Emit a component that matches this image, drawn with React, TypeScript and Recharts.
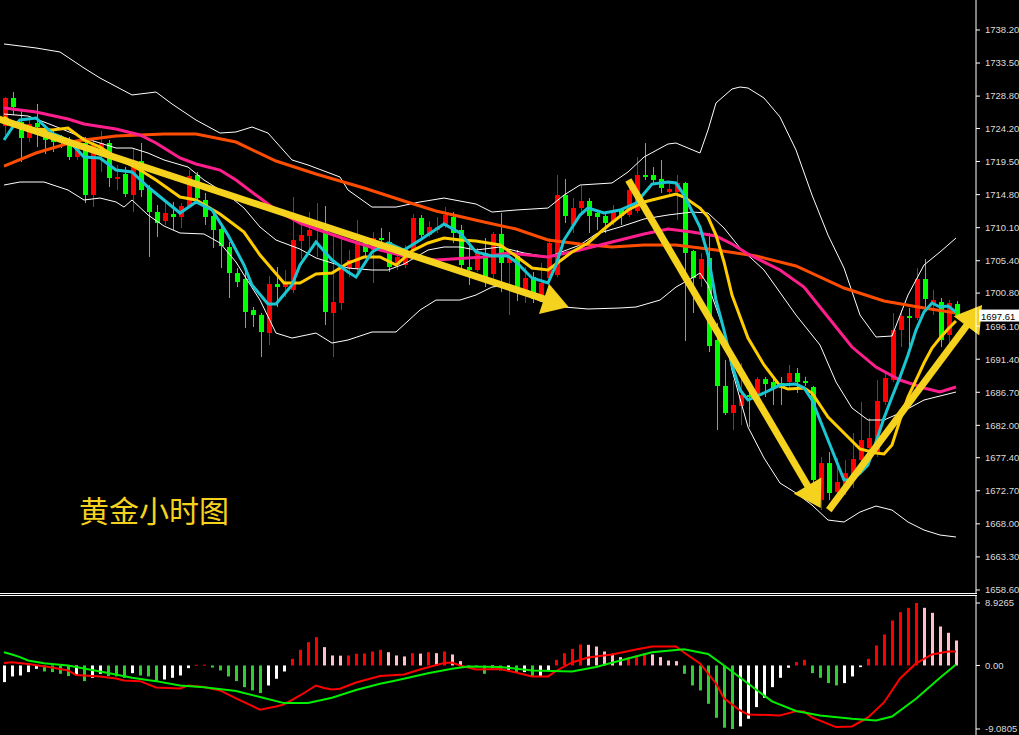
import React from "react";
import { ComposedChart, Bar, Line, XAxis, YAxis, ReferenceLine } from "recharts";

// hourly gold, MT4 style: 120 bars plus 2 empty slots of right shift
const SLOTS = 122;

// open, high, low, close
const candles: [number, number, number, number][] = [
  [1724.55, 1728.67, 1723.27, 1728.53], [1728.53, 1729.38, 1726.11, 1727.25], [1725.12, 1726.82, 1719.43, 1722.84],
  [1722.84, 1725.83, 1722.27, 1724.83], [1724.98, 1727.68, 1721.56, 1724.41], [1724.26, 1724.69, 1720.57, 1722.56],
  [1723.27, 1723.98, 1720.85, 1722.27], [1722.84, 1723.27, 1721.42, 1722.27], [1722.13, 1722.99, 1719.72, 1720.14],
  [1720.14, 1722.27, 1719.72, 1721.85], [1722.13, 1722.99, 1713.6, 1714.74], [1714.74, 1722.84, 1713.03, 1721.85],
  [1720.71, 1723.84, 1718.01, 1722.13], [1722.13, 1722.56, 1715.88, 1717.16], [1717.02, 1719.01, 1715.45, 1717.3],
  [1717.73, 1718.72, 1714.46, 1714.88], [1714.74, 1721.42, 1712.32, 1719.01], [1719.57, 1722.13, 1714.46, 1715.45],
  [1715.74, 1716.16, 1705.93, 1712.32], [1712.32, 1713.32, 1708.77, 1710.76], [1711.04, 1713.6, 1710.48, 1712.18],
  [1712.04, 1713.75, 1709.77, 1711.61], [1711.61, 1713.6, 1710.05, 1713.18], [1713.18, 1718.29, 1712.89, 1717.44],
  [1717.58, 1718.01, 1714.03, 1714.31], [1714.03, 1715.03, 1710.48, 1711.61], [1711.76, 1712.32, 1707.21, 1709.77],
  [1709.91, 1710.76, 1704.36, 1707.49], [1707.35, 1708.06, 1700.1, 1703.65], [1703.65, 1704.36, 1701.66, 1702.37],
  [1702.8, 1704.08, 1695.83, 1698.11], [1698.39, 1698.82, 1695.98, 1697.68], [1697.68, 1697.97, 1691.71, 1695.27],
  [1695.12, 1703.23, 1693.42, 1702.09], [1702.09, 1704.51, 1698.82, 1701.66], [1701.66, 1704.08, 1700.24, 1702.37],
  [1701.24, 1714.46, 1700.81, 1708.34], [1708.2, 1710.76, 1705.64, 1709.05], [1708.91, 1712.32, 1706.92, 1709.77],
  [1709.77, 1713.6, 1705.93, 1710.48], [1710.62, 1713.18, 1696.26, 1698.11], [1697.97, 1708.91, 1691.71, 1699.53],
  [1699.39, 1708.91, 1698.39, 1704.79], [1704.36, 1706.92, 1703.08, 1705.5], [1704.36, 1711.19, 1703.8, 1708.06],
  [1708.06, 1708.77, 1705.93, 1706.64], [1706.92, 1709.48, 1702.23, 1708.63], [1708.63, 1710.05, 1706.92, 1708.34],
  [1708.06, 1709.48, 1703.8, 1704.51], [1704.79, 1707.21, 1704.08, 1705.93], [1704.79, 1707.63, 1704.36, 1707.21],
  [1706.92, 1712.04, 1706.92, 1711.47], [1711.47, 1711.9, 1708.34, 1709.05], [1709.05, 1711.04, 1708.77, 1710.19],
  [1709.77, 1711.61, 1709.34, 1710.19], [1710.48, 1713.03, 1710.05, 1711.9], [1711.61, 1712.32, 1707.92, 1709.34],
  [1709.77, 1710.48, 1704.36, 1704.79], [1704.51, 1707.92, 1701.95, 1704.08], [1704.08, 1707.21, 1703.8, 1706.5],
  [1706.5, 1708.63, 1701.66, 1703.08], [1703.51, 1709.48, 1701.66, 1709.2], [1709.2, 1712.18, 1700.95, 1705.08],
  [1705.08, 1706.5, 1697.68, 1705.93], [1706.07, 1706.92, 1699.67, 1701.66], [1701.09, 1704.51, 1699.39, 1702.94],
  [1703.08, 1703.8, 1699.39, 1699.96], [1700.24, 1705.08, 1700.1, 1702.23], [1702.94, 1708.63, 1702.66, 1707.92],
  [1703.37, 1717.58, 1703.08, 1714.74], [1714.74, 1717.02, 1710.76, 1711.76], [1710.48, 1714.31, 1709.34, 1712.89],
  [1712.89, 1716.02, 1711.9, 1713.89], [1713.89, 1714.31, 1709.34, 1711.76], [1712.18, 1712.61, 1709.77, 1711.61],
  [1711.76, 1712.18, 1709.34, 1710.76], [1710.9, 1713.32, 1710.48, 1712.61], [1712.61, 1712.89, 1710.48, 1711.76],
  [1711.9, 1716.16, 1711.61, 1715.45], [1712.47, 1720.14, 1712.18, 1717.58], [1717.58, 1722.13, 1716.87, 1717.3],
  [1717.58, 1718.72, 1716.16, 1716.87], [1717.02, 1719.72, 1715.03, 1715.74], [1715.17, 1716.45, 1714.6, 1715.59],
  [1715.17, 1717.58, 1711.19, 1716.45], [1716.45, 1716.6, 1693.99, 1706.5], [1706.78, 1706.92, 1697.97, 1702.94],
  [1702.8, 1706.5, 1701.66, 1705.64], [1705.79, 1709.34, 1692.42, 1693.28], [1694.13, 1696.55, 1681.34, 1687.59],
  [1687.59, 1691.29, 1683.47, 1683.75], [1683.75, 1688.44, 1681.34, 1684.89], [1684.75, 1690.86, 1682.05, 1686.31],
  [1686.31, 1688.02, 1681.76, 1686.03], [1686.17, 1688.87, 1685.88, 1688.58], [1688.58, 1688.87, 1686.03, 1687.87],
  [1688.16, 1688.87, 1684.89, 1687.31], [1688.02, 1688.87, 1684.89, 1687.31], [1688.16, 1690.58, 1687.02, 1689.44],
  [1689.44, 1690.15, 1686.6, 1688.16], [1688.3, 1688.9, 1687.6, 1688.02], [1687.45, 1687.6, 1672.38, 1674.23],
  [1671.38, 1677.5, 1669.96, 1676.64], [1676.64, 1678.21, 1671.38, 1672.38], [1672.52, 1677.36, 1671.67, 1673.94],
  [1673.23, 1677.07, 1672.1, 1675.22], [1674.65, 1680.91, 1673.09, 1677.21], [1677.07, 1685.32, 1676.22, 1679.91],
  [1678.78, 1683.04, 1678.49, 1680.2], [1678.07, 1688.44, 1677.5, 1685.46], [1685.32, 1689.58, 1684.89, 1688.73],
  [1688.44, 1697.97, 1688.16, 1695.55], [1695.55, 1698.39, 1693.13, 1697.54], [1697.54, 1698.68, 1693.13, 1697.26],
  [1697.26, 1704.36, 1696.97, 1702.8], [1702.8, 1705.64, 1698.68, 1699.96], [1699.1, 1701.24, 1697.68, 1699.81],
  [1699.53, 1700.1, 1693.13, 1694.13], [1694.84, 1699.81, 1693.42, 1699.39], [1699.25, 1699.67, 1697.4, 1697.61],
];

// [bar index, value] readings of the indicator lines
const maCyan: [number, number][] = [
  [0, 1722.56], [1, 1724.26], [2, 1725.4], [4, 1725.69], [6, 1723.55], [8, 1722.56], [10, 1720.14], [12, 1720.0],
  [14, 1718.29], [16, 1718.01], [18, 1715.88], [20, 1714.03], [22, 1712.18], [24, 1713.75], [26, 1712.61],
  [28, 1709.05], [29, 1706.92], [30, 1704.79], [31, 1701.95], [33, 1699.25], [34, 1699.25], [36, 1701.95],
  [37, 1704.79], [39, 1708.06], [41, 1705.5], [43, 1703.8], [44, 1703.08], [46, 1706.64], [48, 1707.92],
  [50, 1706.92], [52, 1708.34], [55, 1710.62], [57, 1709.34], [59, 1706.64], [61, 1706.07], [63, 1706.07],
  [64, 1705.22], [66, 1702.94], [68, 1702.23], [69, 1704.79], [70, 1708.34], [72, 1711.9], [73, 1712.89],
  [75, 1712.18], [77, 1712.61], [79, 1713.6], [81, 1716.3], [83, 1716.59], [84, 1716.45], [85, 1714.74],
  [87, 1710.19], [88, 1706.21], [89, 1699.81], [90, 1695.55], [91, 1690.58], [92, 1687.02], [93, 1685.6],
  [95, 1686.6], [97, 1687.73], [99, 1687.87], [100, 1687.31], [101, 1685.6], [102, 1682.76], [104, 1677.07],
  [105, 1674.23], [106, 1674.23], [107, 1675.22], [108, 1676.36], [109, 1679.63], [110, 1683.04], [111, 1686.03],
  [112, 1688.87], [113, 1692.0], [114, 1695.55], [115, 1698.11], [116, 1699.39], [117, 1698.82], [118, 1698.96],
  [119, 1698.11],
];
const maYellow: [number, number][] = [
  [0, 1725.83], [2, 1724.26], [6, 1723.98], [8, 1724.26], [10, 1722.56], [12, 1721.56], [14, 1720.14],
  [17, 1718.29], [19, 1716.87], [22, 1714.46], [24, 1714.03], [27, 1712.04], [29, 1710.33], [30, 1709.48],
  [32, 1706.21], [35, 1702.23], [37, 1702.23], [39, 1703.51], [41, 1703.65], [43, 1705.08], [45, 1705.93],
  [47, 1705.93], [49, 1704.79], [51, 1706.78], [53, 1707.92], [55, 1708.63], [57, 1708.34], [59, 1708.2],
  [62, 1707.63], [64, 1706.07], [66, 1704.36], [68, 1704.08], [69, 1704.93], [71, 1706.64], [73, 1707.92],
  [75, 1709.91], [78, 1712.61], [80, 1713.75], [82, 1714.31], [84, 1714.88], [85, 1714.46], [87, 1712.89],
  [88, 1711.61], [89, 1709.05], [90, 1705.22], [91, 1700.53], [93, 1694.41], [95, 1690.58], [97, 1687.59],
  [98, 1687.16], [100, 1687.31], [101, 1686.6], [103, 1683.18], [105, 1680.91], [107, 1678.64], [109, 1678.07],
  [110, 1677.93], [111, 1679.2], [112, 1682.76], [113, 1686.03], [114, 1688.44], [115, 1690.86], [116, 1692.99],
  [117, 1694.41], [118, 1695.69], [119, 1696.83],
];
const maPink: [number, number][] = [
  [0, 1727.11], [4, 1726.54], [8, 1725.54], [10, 1724.83], [14, 1724.12], [17, 1723.27], [19, 1722.13],
  [22, 1720.0], [24, 1719.15], [27, 1718.29], [29, 1716.87], [32, 1714.31], [34, 1712.61], [37, 1710.76],
  [39, 1709.91], [43, 1708.34], [47, 1706.92], [50, 1706.07], [54, 1705.5], [60, 1705.93], [63, 1706.5],
  [68, 1705.93], [72, 1706.92], [76, 1708.06], [80, 1709.2], [83, 1709.91], [86, 1709.48], [89, 1708.91],
  [91, 1707.78], [93, 1706.35], [97, 1704.08], [100, 1701.66], [102, 1698.82], [104, 1695.98], [106, 1693.13],
  [109, 1690.29], [112, 1688.44], [115, 1687.31], [117, 1686.74], [119, 1687.45],
];
const maOrange: [number, number][] = [
  [0, 1718.86], [4, 1720.71], [9, 1722.42], [14, 1723.13], [20, 1723.41], [24, 1723.41], [29, 1722.27],
  [34, 1719.57], [39, 1717.73], [45, 1715.74], [50, 1713.89], [54, 1712.47], [60, 1710.9], [64, 1709.91],
  [68, 1708.34], [72, 1707.78], [76, 1707.35], [80, 1707.63], [84, 1707.63], [89, 1706.92], [94, 1706.07],
  [99, 1704.65], [105, 1701.52], [110, 1699.67], [115, 1698.68], [119, 1697.97],
];
const bbUpper: [number, number][] = [
  [0, 1736.21], [4, 1735.64], [7, 1735.07], [10, 1732.79], [12, 1731.37], [16, 1728.96], [19, 1729.38],
  [21, 1727.68], [24, 1725.4], [27, 1723.55], [29, 1723.7], [31, 1724.41], [33, 1723.55], [36, 1719.72],
  [38, 1719.01], [42, 1717.3], [43, 1715.45], [46, 1713.03], [49, 1713.03], [52, 1713.75], [55, 1714.31],
  [59, 1713.46], [61, 1712.32], [64, 1712.61], [68, 1712.89], [70, 1714.74], [72, 1716.16], [76, 1716.45],
  [78, 1718.01], [80, 1720.14], [83, 1721.99], [84, 1722.13], [87, 1720.71], [88, 1723.98], [89, 1727.82],
  [91, 1729.81], [92, 1730.09], [93, 1729.95], [95, 1728.53], [97, 1725.83], [99, 1721.14], [101, 1714.74],
  [103, 1709.05], [105, 1704.36], [107, 1697.68], [109, 1694.56], [111, 1694.7], [113, 1700.53], [115, 1704.79],
  [117, 1706.64], [119, 1708.63],
];
const bbMiddle: [number, number][] = [
  [0, 1726.25], [3, 1725.97], [6, 1724.69], [10, 1722.84], [14, 1721.42], [16, 1721.42], [18, 1720.71],
  [20, 1719.72], [23, 1718.72], [25, 1716.87], [28, 1714.74], [30, 1712.89], [32, 1710.19], [34, 1708.34],
  [37, 1707.06], [39, 1705.79], [43, 1704.36], [46, 1704.08], [48, 1704.08], [50, 1704.93], [53, 1706.92],
  [55, 1707.35], [57, 1707.35], [59, 1706.92], [62, 1707.35], [65, 1706.5], [68, 1705.93], [72, 1707.63],
  [74, 1709.2], [77, 1710.19], [80, 1711.33], [83, 1711.9], [86, 1712.32], [88, 1712.18], [90, 1710.05],
  [92, 1707.21], [95, 1704.08], [99, 1697.68], [102, 1693.42], [104, 1688.16], [106, 1684.46], [108, 1682.76],
  [110, 1682.76], [112, 1683.75], [115, 1685.6], [119, 1686.74],
];
const bbLower: [number, number][] = [
  [0, 1716.16], [2, 1716.59], [5, 1716.59], [8, 1715.45], [10, 1714.03], [12, 1714.31], [14, 1713.75],
  [15, 1713.03], [16, 1714.03], [18, 1711.9], [20, 1710.33], [22, 1709.34], [25, 1709.2], [27, 1707.92],
  [29, 1705.22], [30, 1703.37], [32, 1699.81], [34, 1695.12], [36, 1694.41], [39, 1695.12], [41, 1693.7],
  [43, 1694.13], [46, 1695.27], [49, 1695.27], [52, 1698.39], [54, 1699.81], [57, 1699.81], [59, 1700.53],
  [61, 1701.66], [63, 1701.95], [67, 1699.67], [70, 1698.82], [73, 1698.54], [77, 1698.68], [79, 1698.82],
  [82, 1699.81], [84, 1701.66], [86, 1702.94], [87, 1703.65], [88, 1701.95], [90, 1695.55], [91, 1689.86],
  [93, 1681.76], [95, 1677.36], [97, 1673.8], [99, 1672.38], [101, 1670.67], [103, 1668.54], [105, 1668.26],
  [107, 1669.68], [109, 1670.53], [111, 1669.96], [113, 1668.26], [115, 1667.12], [117, 1666.41], [119, 1666.13],
];

// MACD histogram, one value per bar
const macdHist: number[] = [
  -2.38, -1.57, -1.43, -0.95, -0.48, -0.86, -0.95, -1.19, -1.52, -1.33,
  -2.24, -1.76, -1.19, -1.52, -1.55, -1.76, -1.1, -1.43, -1.57, -2.24,
  -2.0, -1.76, -1.43, -0.38, 0.1, 0.12, -0.3, -0.71, -1.57, -2.24,
  -3.1, -3.57, -3.95, -2.86, -1.9, -0.86, 0.95, 2.24, 3.33, 4.05,
  2.62, 1.43, 1.4, 1.43, 1.67, 1.7, 2.0, 2.24, 1.9, 1.43,
  1.29, 1.76, 1.7, 1.9, 1.76, 2.0, 1.57, 0.62, -0.1, -0.2,
  -1.19, -0.33, -0.71, -0.62, -1.0, -0.95, -1.57, -1.5, -0.81, 0.81,
  1.76, 2.38, 3.0, 2.95, 2.71, 2.0, 1.67, 1.19, 1.19, 1.43,
  1.76, 1.57, 1.19, 0.71, 0.62, -1.19, -2.86, -3.57, -5.48, -7.48,
  -8.9, -9.08, -8.71, -7.62, -5.95, -4.62, -3.1, -1.76, -0.33, 0.48,
  0.81, -1.1, -1.76, -2.52, -2.86, -2.52, -1.57, -0.24, 0.95, 2.86,
  4.43, 6.43, 7.62, 8.24, 8.93, 8.24, 7.52, 5.57, 4.67, 3.57,
];
const macdRed: [number, number][] = [
  [0, 0.36], [1, 0.47], [3, 0.21], [6, -0.29], [8, -0.71], [9, -1.36], [12, -1.57], [14, -1.86], [15, -2.14],
  [17, -2.24], [19, -3.14], [22, -3.29], [23, -2.86], [25, -3.07], [27, -3.57], [29, -4.71], [31, -5.79],
  [32, -6.33], [34, -5.86], [35, -5.57], [37, -4.29], [39, -2.86], [40, -3.21], [41, -3.43], [42, -3.33],
  [44, -2.43], [47, -1.5], [50, -1.29], [52, -0.57], [55, 0.36], [56, 0.43], [57, 0.0], [59, -0.57], [62, -0.5],
  [64, -1.0], [66, -1.57], [68, -1.57], [69, -0.79], [71, 0.43], [73, 1.14], [76, 1.57], [79, 2.29], [81, 2.71],
  [84, 2.71], [85, 1.86], [87, 0.29], [89, -2.57], [90, -4.71], [92, -6.43], [93, -7.0], [97, -7.14], [99, -6.53],
  [100, -6.57], [101, -7.43], [104, -8.81], [106, -8.71], [108, -7.43], [110, -5.29], [112, -1.86], [114, 0.29],
  [116, 1.57], [118, 2.0], [119, 2.0],
];
const macdGreen: [number, number][] = [
  [0, 1.9], [1, 1.57], [2, 1.19], [3, 0.71], [5, 0.33], [8, 0.0], [10, -0.43], [13, -1.07], [16, -1.76],
  [19, -2.24], [22, -2.86], [25, -3.1], [29, -3.64], [32, -4.52], [35, -5.38], [38, -5.38], [41, -4.62],
  [44, -3.5], [47, -2.62], [49, -2.14], [53, -1.1], [56, -0.47], [58, -0.14], [62, -0.21], [66, -0.71],
  [71, -0.86], [74, -0.21], [78, 1.0], [81, 1.9], [85, 2.33], [88, 1.64], [90, 0.0], [93, -2.57], [96, -5.14],
  [99, -6.5], [102, -7.14], [106, -7.61], [109, -7.86], [111, -7.29], [114, -4.76], [117, -1.76], [119, 0.14],
];

const priceTicks = [
  1738.2, 1733.5, 1728.8, 1724.2, 1719.5, 1714.8, 1710.1, 1705.4, 1700.8,
  1696.1, 1691.4, 1686.7, 1682.0, 1677.4, 1672.7, 1668.0, 1663.3, 1658.6,
];
const macdTicks = [8.9265, 0, -9.0805];
const lastPrice = 1697.61;

// hand-drawn trend arrows: [bar position, price] from -> to
const arrows: { from: [number, number]; to: [number, number] }[] = [
  { from: [-0.5, 1725.69], to: [70.5, 1698.82] },
  { from: [77.9, 1716.87], to: [101.75, 1670.25] },
  { from: [102.75, 1669.96], to: [121.75, 1699.1] },
];

const ARROW = "#f5d21e";
const AXIS_TEXT = { fill: "#dcdcdc", fontSize: 9.5, fontFamily: "Liberation Sans, Arial, sans-serif" };

function spread(points: [number, number][]) {
  const out: (number | undefined)[] = new Array(SLOTS).fill(undefined);
  points.forEach(([i, v]) => (out[i] = v));
  return out;
}

const cyanS = spread(maCyan);
const yellowS = spread(maYellow);
const pinkS = spread(maPink);
const orangeS = spread(maOrange);
const upS = spread(bbUpper);
const midS = spread(bbMiddle);
const lowS = spread(bbLower);
const redS = spread(macdRed);
const greenS = spread(macdGreen);

const mainData = Array.from({ length: SLOTS }, (_, i) => {
  const c = candles[i];
  return {
    i,
    range: c ? [c[2], c[1]] : undefined,
    o: c?.[0],
    hi: c?.[1],
    lo: c?.[2],
    c: c?.[3],
    cyan: cyanS[i],
    yellow: yellowS[i],
    pink: pinkS[i],
    orange: orangeS[i],
    up: upS[i],
    mid: midS[i],
    low: lowS[i],
  };
});

function histColor(i: number) {
  const v = macdHist[i];
  const prev = i > 0 ? macdHist[i - 1] : v;
  if (v >= 0) return v >= prev ? "#ff0000" : "#ffc0cb";
  return v >= prev ? "#ffffff" : "#32cd32";
}

const macdData = Array.from({ length: SLOTS }, (_, i) => ({
  i,
  hist: macdHist[i],
  color: i < macdHist.length ? histColor(i) : undefined,
  macd: redS[i],
  signal: greenS[i],
}));

function Candle(props: any) {
  const { x, y, width, height, payload } = props;
  if (!payload || payload.o == null) return null;
  const top = Math.min(y, y + height);
  const h = Math.abs(height);
  const span = payload.hi - payload.lo || 1;
  const py = (p: number) => top + ((payload.hi - p) / span) * h;
  const cx = Math.round(x + width / 2);
  const color = payload.c >= payload.o ? "#ff0000" : "#00ff00";
  const bTop = py(Math.max(payload.o, payload.c));
  const bBot = py(Math.min(payload.o, payload.c));
  return (
    <g>
      <rect x={cx} y={top} width={1} height={Math.max(h, 1)} fill={color} />
      <rect x={cx - 2} y={bTop} width={5} height={Math.max(bBot - bTop, 1)} fill={color} />
    </g>
  );
}

function HistBar(props: any) {
  const { x, y, width, height, payload } = props;
  if (!payload || payload.color == null) return null;
  const top = Math.min(y, y + height);
  return <rect x={Math.round(x)} y={top} width={width} height={Math.max(Math.abs(height), 1)} fill={payload.color} />;
}

function ArrowShape(props: any) {
  const { x1, y1, x2, y2 } = props;
  const len = Math.hypot(x2 - x1, y2 - y1) || 1;
  const ux = (x2 - x1) / len;
  const uy = (y2 - y1) / len;
  const bx = x2 - ux * 26;
  const by = y2 - uy * 26;
  const px = -uy * 16;
  const py = ux * 16;
  return (
    <g>
      <line x1={x1} y1={y1} x2={bx + ux * 3} y2={by + uy * 3} stroke={ARROW} strokeWidth={7} />
      <polygon points={`${x2},${y2} ${bx + px},${by + py} ${bx - px},${by - py}`} fill={ARROW} />
    </g>
  );
}

function PriceTag(props: any) {
  const vb = props.viewBox || {};
  const x = (vb.x || 0) + (vb.width || 0) + 3;
  const y = vb.y || 0;
  return (
    <g>
      <rect x={x} y={y - 6} width={42} height={12} fill="#ffffff" />
      <text x={x + 2} y={y + 4} fontSize={9.5} fontFamily="Liberation Sans, Arial, sans-serif" fill="#000000">
        {lastPrice.toFixed(2)}
      </text>
    </g>
  );
}

const lineProps = { dot: false, activeDot: false, connectNulls: true, isAnimationActive: false, xAxisId: "cat" } as const;

export default function App() {
  return (
    <div style={{ position: "absolute", left: 0, top: 0, width: 1019, height: 735, background: "#000", overflow: "hidden" }}>
      <div style={{ position: "absolute", left: 0, top: 0 }}>
        <ComposedChart width={1019} height={600} data={mainData} margin={{ top: 0, right: 0, left: 0, bottom: 7 }}>
          <XAxis xAxisId="cat" dataKey="i" hide />
          <XAxis xAxisId="num" type="number" domain={[-0.5, 121.5]} hide />
          <YAxis
            orientation="right"
            width={43}
            domain={[1658.17, 1742.46]}
            allowDataOverflow
            ticks={priceTicks}
            interval={0}
            tickFormatter={(v: number) => v.toFixed(2)}
            tick={AXIS_TEXT}
            tickSize={4}
            tickMargin={5}
            axisLine={{ stroke: "#ffffff" }}
            tickLine={{ stroke: "#ffffff" }}
          />
          <Line {...lineProps} dataKey="up" stroke="#ffffff" strokeWidth={1} />
          <Line {...lineProps} dataKey="mid" stroke="#ffffff" strokeWidth={1} />
          <Line {...lineProps} dataKey="low" stroke="#ffffff" strokeWidth={1} />
          <Bar xAxisId="cat" dataKey="range" barSize={5} shape={<Candle />} isAnimationActive={false} />
          <Line {...lineProps} dataKey="orange" stroke="#ff4d00" strokeWidth={3} />
          <Line {...lineProps} dataKey="pink" stroke="#ff1e8e" strokeWidth={3} />
          <Line {...lineProps} dataKey="yellow" stroke="#ffcc00" strokeWidth={3} />
          <Line {...lineProps} dataKey="cyan" stroke="#1bc6d3" strokeWidth={3} />
          {arrows.map((a, k) => (
            <ReferenceLine
              key={k}
              xAxisId="num"
              segment={[{ x: a.from[0], y: a.from[1] }, { x: a.to[0], y: a.to[1] }]}
              ifOverflow="visible"
              shape={(p: any) => <ArrowShape {...p} />}
            />
          ))}
          <ReferenceLine xAxisId="cat" y={lastPrice} stroke="none" ifOverflow="visible" label={(p: any) => <PriceTag {...p} />} />
        </ComposedChart>
      </div>

      <div style={{ position: "absolute", left: 0, top: 596 }}>
        <ComposedChart width={1019} height={139} data={macdData} margin={{ top: 0, right: 0, left: 0, bottom: 0 }}>
          <XAxis dataKey="i" hide />
          <YAxis
            orientation="right"
            width={43}
            domain={[-9.94, 9.93]}
            allowDataOverflow
            ticks={macdTicks}
            interval={0}
            tickFormatter={(v: number) => (v === 0 ? "0.00" : String(v))}
            tick={AXIS_TEXT}
            tickSize={4}
            tickMargin={5}
            axisLine={{ stroke: "#ffffff" }}
            tickLine={{ stroke: "#ffffff" }}
          />
          <Bar dataKey="hist" barSize={3} shape={<HistBar />} isAnimationActive={false} />
          <Line dataKey="macd" stroke="#ff0000" strokeWidth={2} dot={false} activeDot={false} connectNulls isAnimationActive={false} />
          <Line dataKey="signal" stroke="#00ee00" strokeWidth={2} dot={false} activeDot={false} connectNulls isAnimationActive={false} />
        </ComposedChart>
      </div>

      <div style={{ position: "absolute", left: 0, top: 593, width: 977, height: 1, background: "#fff" }} />
      <div style={{ position: "absolute", left: 0, top: 595, width: 977, height: 1, background: "#fff" }} />

      <div
        style={{
          position: "absolute",
          left: 79,
          top: 494,
          color: "#f5d21e",
          fontSize: 30,
          lineHeight: 1,
          fontFamily: "'Noto Sans CJK SC', sans-serif",
        }}
      >
        黄金小时图
      </div>
    </div>
  );
}
